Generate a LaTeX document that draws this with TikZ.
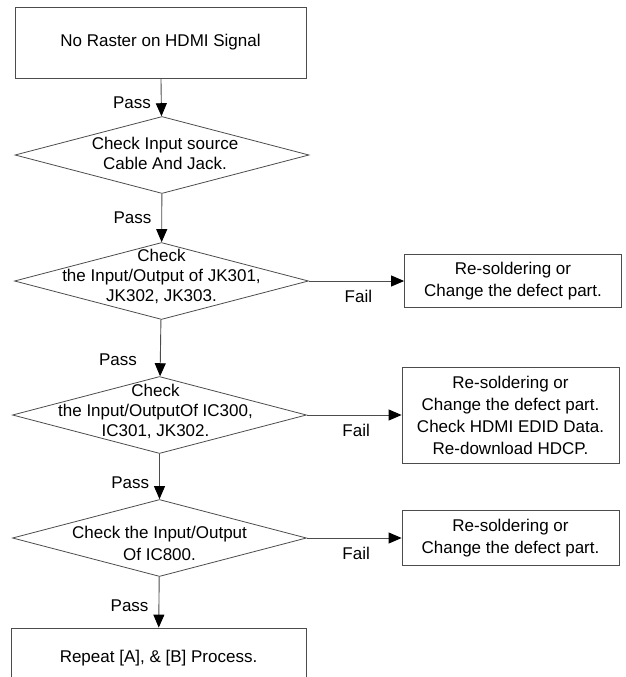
\documentclass[tikz,border=0pt]{standalone}
\usepackage{fontspec}
\setmainfont{Liberation Sans}
\usetikzlibrary{shapes.geometric, arrows.meta}
\tikzstyle{startstop} = [rectangle, minimum width=291pt, minimum height=71pt, draw=black!70, line width=0.8pt]
\tikzstyle{decision} = [diamond, minimum width=294pt, minimum height=77pt, inner sep=0pt, draw=black!70, line width=0.8pt]
\tikzstyle{dtext} = [align=center, inner sep=0pt]
\tikzstyle{process} = [rectangle, minimum width=217pt, align=center, draw=black!70, line width=0.8pt, font=\fontsize{17}{22}\selectfont]
\tikzstyle{arrow} = [line width=0.9pt, draw=black!70, -{Triangle[length=13pt,width=11pt,color=black]}]
\tikzstyle{pass} = [left, inner sep=0pt, xshift=-10pt]
\tikzstyle{fail} = [below, inner sep=0pt, yshift=-9pt]

\begin{document}
\begin{tikzpicture}[node distance=2cm, font=\fontsize{17}{20}\selectfont]
\useasboundingbox (0pt,0pt) rectangle (626pt,-677pt);
\clip (0pt,0pt) rectangle (626pt,-677pt);
\node (start) [startstop] at (160.5pt,-42.5pt) {No Raster on HDMI Signal};
\node (d1) [decision, node distance=112.5pt, below of=start, xshift=1.5pt] {};
\node (d1t) [dtext, xshift=3pt, yshift=1.5pt] at (d1) {Check Input source\\Cable And Jack.};
\node (d2) [decision, node distance=126pt, below of=d1, xshift=-0.5pt] {};
\node (d2t) [dtext, yshift=5pt] at (d2) {Check\\the Input/Output of JK301,\\JK302, JK303.};
\node (fail1) [process, minimum height=53pt, node distance=351.5pt, right of=d2] {Re-soldering or\\Change the defect part.};
\node (d3) [decision, node distance=134pt, below of=d2, xshift=-2pt] {};
\node (d3t) [dtext, xshift=-4pt, yshift=4pt] at (d3) {Check\\the Input/OutputOf IC300,\\IC301, JK302.};
\node (fail2) [process, minimum height=96pt, node distance=351pt, right of=d3] {Re-soldering or\\Change the defect part.\\Check HDMI EDID Data.\\Re-download HDCP.};
\node (d4) [decision, node distance=123pt, below of=d3] {};
\node (d4t) [dtext, yshift=-5.5pt] at (d4) {Check the Input/Output\\[2.5pt]Of IC800.};
\node (fail3) [process, minimum height=55pt, node distance=351pt, right of=d4] {Re-soldering or\\Change the defect part.};
\node (finish) [startstop, minimum width=295pt, minimum height=60pt, node distance=120pt, below of=d4, xshift=-1pt] {Repeat [A], \& [B] Process.};
\draw [arrow] (start) -- node[pass, pos=0.64] {Pass} (d1);
\draw [arrow] (d1) -- node[pass, pos=0.49] {Pass} (d2);
\draw [arrow] (d2) -- node[pass, pos=0.71, xshift=-13pt] {Pass} (d3);
\draw [arrow] (d3) -- node[pass, pos=0.63] {Pass} (d4);
\draw [arrow] (d4) -- node[pass, pos=0.57] {Pass} (finish);
\draw [arrow] (d2) -- node[fail, pos=0.52] {Fail} (fail1);
\draw [arrow] (d3) -- node[fail, pos=0.52] {Fail} (fail2);
\draw [arrow] (d4) -- node[fail, pos=0.52] {Fail} (fail3);
\end{tikzpicture}
\end{document}
